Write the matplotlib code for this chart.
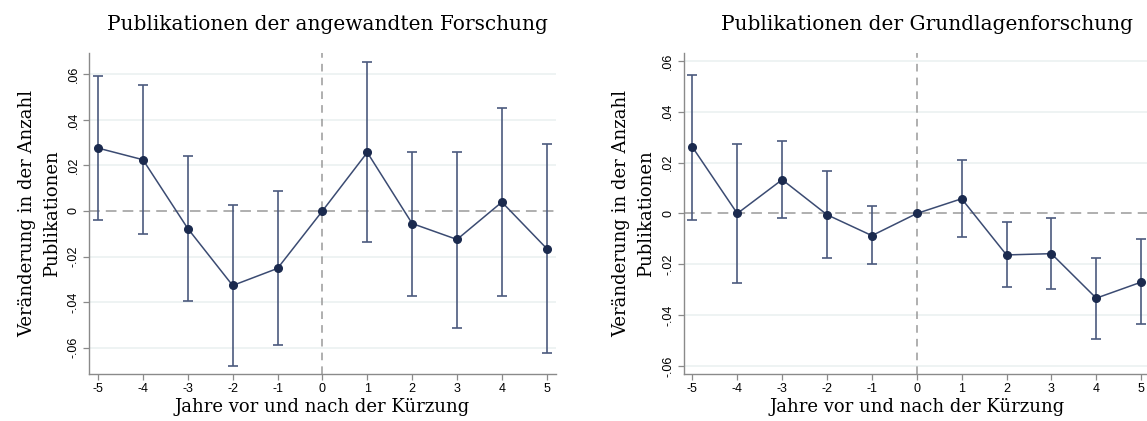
import numpy as np
import matplotlib
matplotlib.use("Agg")
import matplotlib.pyplot as plt

# ---------------- data ----------------
years = [-5, -4, -3, -2, -1, 0, 1, 2, 3, 4, 5]

# applied research
applied_coef = [0.0276, 0.0225, -0.0077, -0.0327, -0.0252, 0.0, 0.0257, -0.0055, -0.0125, 0.0039, -0.0165]
applied_lo = [-0.0041, -0.0103, -0.0396, -0.0679, -0.0590, np.nan, -0.0138, -0.0371, -0.0512, -0.0371, -0.0622]
applied_hi = [0.0593, 0.0552, 0.0241, 0.0028, 0.0086, np.nan, 0.0653, 0.0261, 0.0261, 0.0451, 0.0295]

# basic research
basic_coef = [0.0261, 0.0, 0.0133, -0.0005, -0.0087, 0.0, 0.0058, -0.0163, -0.0158, -0.0333, -0.0270]
basic_lo = [-0.0025, -0.0275, -0.0018, -0.0174, -0.0200, np.nan, -0.0092, -0.0288, -0.0296, -0.0493, -0.0434]
basic_hi = [0.0546, 0.0275, 0.0286, 0.0166, 0.0028, np.nan, 0.0209, -0.0034, -0.0017, -0.0174, -0.0101]

yticks = [-0.06, -0.04, -0.02, 0, 0.02, 0.04, 0.06]
ytick_labels = ["-.06", "-.04", "-.02", "0", ".02", ".04", ".06"]

titles = ["Publikationen der angewandten Forschung", "Publikationen der Grundlagenforschung"]
xlabel = "Jahre vor und nach der Kürzung"
ylabel = "Veränderung in der Anzahl\nPublikationen"

# ---------------- style ----------------
NAVY = "#1b2a4e"
BAR = "#4b5a7e"
LINE = "#3b4b72"
GRID = "#ebf1f1"
SPINE = "#8a8a8a"
SERIF = "DejaVu Serif"
SANS = "Liberation Sans"

fig = plt.figure(figsize=(11.47, 4.21), dpi=100)

panels = [
    (applied_coef, applied_lo, applied_hi, [0.0779, 0.1124, 0.4066, 0.7610], (-0.0714, 0.0692), 327),
    (basic_coef, basic_lo, basic_hi, [0.5961, 0.1124, 0.4066, 0.7610], (-0.0630, 0.0630), 927),
]

for i, (coef, lo, hi, rect, ylim, title_x) in enumerate(panels):
    ax = fig.add_axes(rect)
    x = np.array(years, dtype=float)
    coef = np.array(coef)
    lo = np.array(lo)
    hi = np.array(hi)
    has_ci = ~np.isnan(lo)

    for yv in yticks:
        if yv != 0:
            ax.axhline(yv, color=GRID, lw=1.2, zorder=0)
    ax.axhline(0, color="#9a9a9a", lw=1.1, ls=(0, (7, 4)), zorder=1)
    ax.axvline(0, color="#9a9a9a", lw=1.1, ls=(0, (5, 4)), zorder=1)

    ax.errorbar(x[has_ci], coef[has_ci],
                yerr=[coef[has_ci] - lo[has_ci], hi[has_ci] - coef[has_ci]],
                fmt="none", ecolor=BAR, elinewidth=1.2, capsize=3.5, capthick=1.2, zorder=2)
    ax.plot(x, coef, color=LINE, lw=1.1, zorder=3)
    ax.plot(x, coef, "o", color=NAVY, ms=5.5, zorder=4)

    ax.set_xlim(-5.194, 5.2)
    ax.set_ylim(*ylim)
    ax.set_xticks(years)
    ax.set_xticklabels([str(v) for v in years], fontfamily=SANS, fontsize=9)
    ax.set_yticks(yticks)
    ax.set_yticklabels(ytick_labels, fontfamily=SANS, fontsize=9, rotation=90, va="center")

    for side in ["top", "right"]:
        ax.spines[side].set_visible(False)
    for side in ["left", "bottom"]:
        ax.spines[side].set_color(SPINE)
        ax.spines[side].set_linewidth(1.0)
    ax.tick_params(axis="both", color=SPINE, length=4, width=0.9, direction="out", pad=3)

    ax.set_xlabel(xlabel, fontfamily=SERIF, fontsize=13, labelpad=2)
    ax.set_ylabel(ylabel, fontfamily=SERIF, fontsize=13, labelpad=5, linespacing=1.5)
    fig.text(title_x / 1147, 1 - 30 / 421, titles[i], fontfamily=SERIF, fontsize=14.5,
             ha="center", va="baseline")

fig.savefig("out.png", dpi=100)
